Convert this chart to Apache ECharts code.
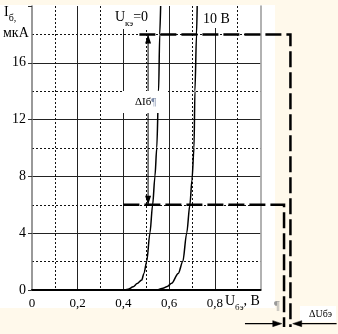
<!DOCTYPE html>
<html><head><meta charset="utf-8">
<script src="https://cdn.jsdelivr.net/npm/echarts@6/dist/echarts.min.js"></script>
<style>html,body{margin:0;padding:0;background:#fff9eb;}#c{width:338px;height:334px;}</style>
</head><body><div id="c"></div>
<script>
// ---- data ----
const xTickValues = [0, 0.2, 0.4, 0.6, 0.8, 1.0];
const xTickLabels = ['0', '0,2', '0,4', '0,6', '0,8', ''];
const yTickValues = [0, 4, 8, 12, 16, 20];
const yTickLabels = ['0', '4', '8', '12', '16', ''];

// Input characteristic Iб(Uбэ) at Uкэ = 0
const curve0U = [0, 0.40, 0.42, 0.443, 0.46, 0.48, 0.49, 0.502, 0.516, 0.528, 0.538, 0.546, 0.554, 0.559, 0.563];
const curve0I = [0, 0, 0.05, 0.23, 0.45, 0.7, 1.17, 2, 4, 6, 8, 10, 14, 18, 20];
// Input characteristic at Uкэ = 10 В
const curve10U = [0.55, 0.573, 0.592, 0.611, 0.64, 0.66, 0.677, 0.691, 0.70, 0.709, 0.713, 0.72, 0.723];
const curve10I = [0, 0.12, 0.25, 0.47, 1.17, 2, 4, 6, 7.75, 10, 14, 18, 20];

// Operating levels of Iб (ΔIб between them) and construction lines
const ibHigh = 18, ibLow = 6;
const upperLeadU = [0.47, 1.131, 1.131];
const upperLeadI = [ibHigh, ibHigh, -2.6];
const lowerLeadU = [0.40, 1.103, 1.103];
const lowerLeadI = [ibLow, ibLow, -2.6];
const deltaIbU = 0.508;
const deltaUArrowI = -2.37;
const leftArrowU = [0.932, 1.093];
const rightArrowU = [1.333, 1.141];

const zip = (a, b) => a.map((v, i) => [v, b[i]]);
const lab = (vals, labels) => v => { const i = vals.findIndex(t => Math.abs(t - v) < 1e-6); return i >= 0 ? labels[i] : ''; };

const FF = 'Liberation Serif';
const chart = echarts.init(document.getElementById('c'), null, {renderer: 'canvas'});

function arrowEnd(value, rot, off) {
  return {value: value, symbol: 'triangle', symbolSize: [6, 9], symbolRotate: rot, symbolOffset: off};
}

chart.setOption({
  backgroundColor: '#fff9eb',
  animation: false,
  grid: {left: 32, top: 6, width: 228.5, height: 284, containLabel: false},
  xAxis: {
    type: 'value', min: 0, max: 1, interval: 0.2,
    axisLine: {show: true, onZero: false, lineStyle: {color: '#000', width: 2}},
    axisTick: {show: false},
    axisLabel: {formatter: lab(xTickValues, xTickLabels), margin: 7, color: '#000', fontFamily: FF, fontSize: 13},
    splitLine: {show: true, showMinLine: false, showMaxLine: false, lineStyle: {color: '#222', width: 1}},
    minorTick: {show: false, splitNumber: 2},
    minorSplitLine: {show: true, lineStyle: {color: '#111', width: 1, type: [2, 2]}}
  },
  yAxis: [{
    type: 'value', min: 0, max: 20, interval: 4,
    axisLine: {show: true, onZero: false, lineStyle: {color: '#777', width: 1.5}},
    axisTick: {show: true, length: 4, lineStyle: {color: '#333'}},
    axisLabel: {formatter: lab(yTickValues, yTickLabels), margin: 6, color: '#000', fontFamily: FF, fontSize: 14},
    splitLine: {show: true, showMinLine: false, showMaxLine: false, lineStyle: {color: '#222', width: 1}},
    minorTick: {show: false, splitNumber: 2},
    minorSplitLine: {show: true, lineStyle: {color: '#111', width: 1, type: [2, 2]}}
  }, {
    type: 'value', min: 0, max: 20, position: 'right',
    axisLine: {show: true, onZero: false, lineStyle: {color: '#999', width: 1.5}},
    axisTick: {show: false}, axisLabel: {show: false}, splitLine: {show: false}
  }],
  series: [
    {type: 'line', data: zip(curve0U, curve0I), smooth: 0.3, smoothMonotone: 'x', showSymbol: false, symbol: 'none',
     lineStyle: {color: '#000', width: 1.5}, clip: true, silent: true, z: 3},
    {type: 'line', data: zip(curve10U, curve10I), smooth: 0.3, smoothMonotone: 'x', showSymbol: false, symbol: 'none',
     lineStyle: {color: '#000', width: 1.5}, clip: true, silent: true, z: 3},
    {type: 'line', symbol: 'none', showSymbol: true, clip: false, silent: true,
     lineStyle: {color: '#000', width: 1}, itemStyle: {color: '#000'}, z: 5,
     data: [arrowEnd([deltaIbU, ibHigh], 0, [0, 4.5]), arrowEnd([deltaIbU, ibLow], 180, [0, -4.5])]}
  ]
});

// construction lines that leave the plot area: placed through the chart's own scales
const px = (u, i) => chart.convertToPixel({xAxisIndex: 0, yAxisIndex: 0}, [u, i]);
function tri(tip, dir) {
  const L = 9, W = 3, bx = tip[0] - dir * L;
  return [[tip[0], tip[1]], [bx, tip[1] - W], [bx, tip[1] + W]];
}
const la0 = px(leftArrowU[0], deltaUArrowI), la1 = px(leftArrowU[1], deltaUArrowI);
const ra0 = px(rightArrowU[0], deltaUArrowI), ra1 = px(rightArrowU[1], deltaUArrowI);

const rich = (sub) => ({
  m: {fontFamily: FF, fontSize: 14, lineHeight: 18, verticalAlign: 'top', fill: '#000'},
  s: {fontFamily: FF, fontSize: sub, lineHeight: sub, verticalAlign: 'bottom', fill: '#000'}
});

chart.setOption({graphic: {elements: [
  {type: 'rect', z: -10, shape: {x: 0, y: 5, width: 275, height: 303}, style: {fill: '#fff'}},
  {type: 'polyline', z: 4, shape: {points: zip(upperLeadU, upperLeadI).map(p => px(p[0], p[1]))},
   style: {stroke: '#000', lineWidth: 2.5, lineDash: [16, 5], fill: null}},
  {type: 'polyline', z: 4, shape: {points: zip(lowerLeadU, lowerLeadI).map(p => px(p[0], p[1]))},
   style: {stroke: '#000', lineWidth: 2.5, lineDash: [16, 5], fill: null}},
  {type: 'rect', z: 50, shape: {x: 104, y: 5, width: 46, height: 24}, style: {fill: '#fff'}},
  {type: 'rect', z: 50, shape: {x: 199, y: 5, width: 34, height: 23}, style: {fill: '#fff'}},
  {type: 'rect', z: 50, shape: {x: 123, y: 91, width: 45, height: 22}, style: {fill: '#fff'}},
  {type: 'rect', z: 50, shape: {x: 300, y: 306, width: 36, height: 16}, style: {fill: '#fff'}},
  {type: 'polyline', z: 60, shape: {points: [[la0[0], la0[1]], [la1[0] - 5, la1[1]]]}, style: {stroke: '#000', lineWidth: 1.2, lineDash: null, fill: null}},
  {type: 'polyline', z: 60, shape: {points: [[ra0[0], ra0[1]], [ra1[0] + 5, ra1[1]]]}, style: {stroke: '#000', lineWidth: 1.2, lineDash: null, fill: null}},
  {type: 'polygon', z: 60, shape: {points: tri(la1, 1)}, style: {fill: '#000', stroke: '#000', lineWidth: 0.5}},
  {type: 'polygon', z: 60, shape: {points: tri(ra1, -1)}, style: {fill: '#000', stroke: '#000', lineWidth: 0.5}},
  {type: 'text', z: 61, x: 4, y: 5, style: {text: '{m|I}{s|б,}', rich: rich(10)}},
  {type: 'text', z: 61, x: 3, y: 26, style: {text: 'мкА', fontFamily: FF, fontSize: 14, fill: '#000'}},
  {type: 'text', z: 61, x: 115, y: 10, style: {text: '{m|U}{s|кэ}{m|=0}', rich: rich(9)}},
  {type: 'text', z: 61, x: 203, y: 12, style: {text: '10 В', fontFamily: FF, fontSize: 14, fill: '#000'}},
  {type: 'text', z: 61, x: 135, y: 97, style: {text: '{m|ΔIб}{p|¶}', rich: {
    m: {fontFamily: FF, fontSize: 11, fill: '#000'},
    p: {fontFamily: FF, fontSize: 11, fill: '#7a8aa8'}}}},
  {type: 'text', z: 61, x: 225, y: 294, style: {text: '{m|U}{s|бэ}{m|, В}', rich: rich(9)}},
  {type: 'text', z: 61, x: 274, y: 299, style: {text: '¶', fontFamily: FF, fontSize: 13, fill: '#999'}},
  {type: 'text', z: 61, x: 309, y: 309, style: {text: 'ΔUбэ', fontFamily: FF, fontSize: 10, fill: '#000'}}
]}});
</script></body></html>
